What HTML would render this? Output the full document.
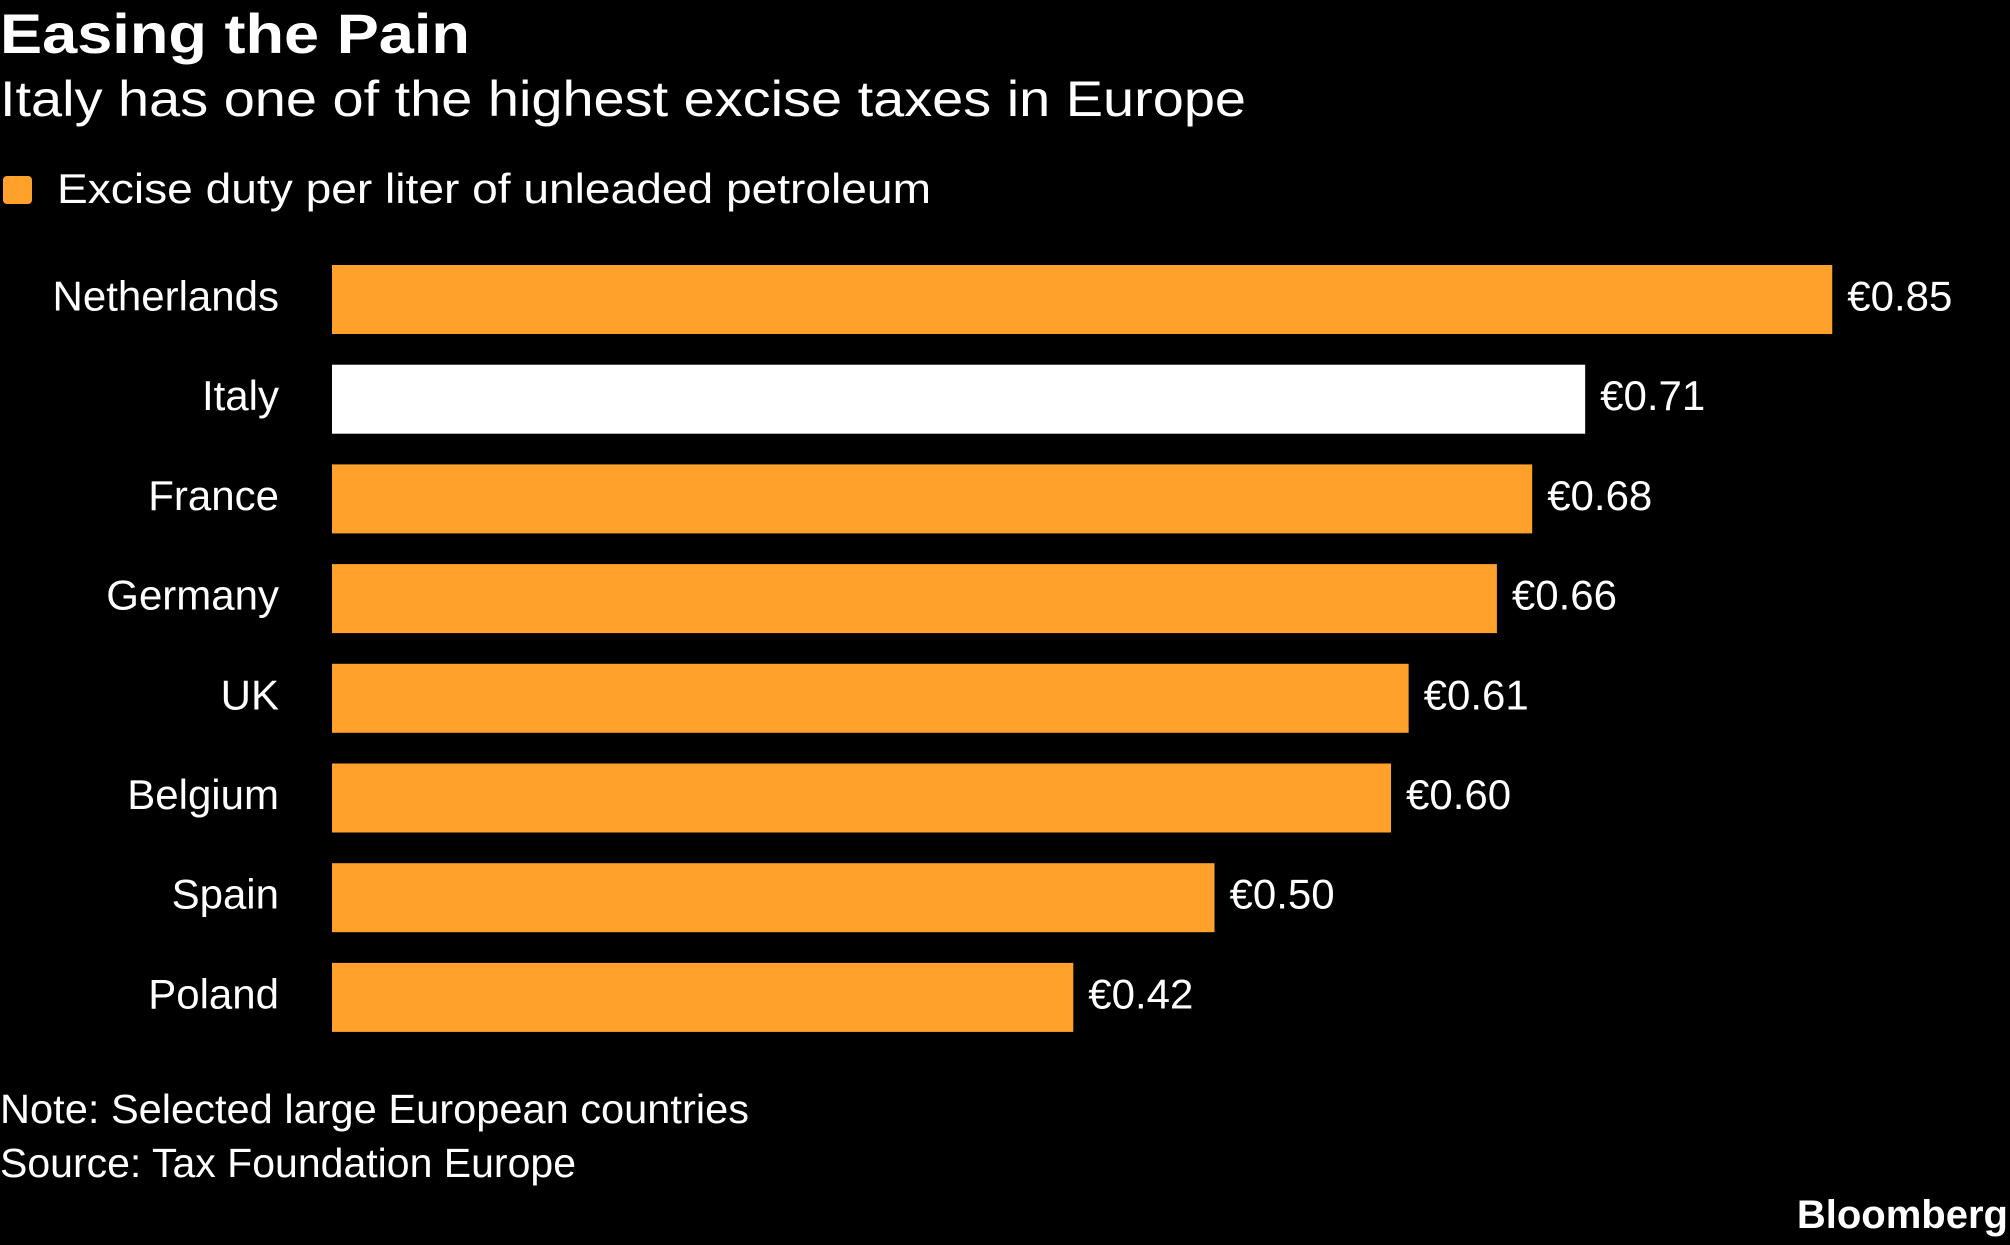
<!DOCTYPE html>
<html><head><meta charset="utf-8"><style>
html,body{margin:0;padding:0;background:#000;}
svg{display:block;font-family:"Liberation Sans",sans-serif;}
</style></head><body>
<svg id="chart" width="2010" height="1245" viewBox="0 0 2010 1245" xmlns="http://www.w3.org/2000/svg">
<rect width="2010" height="1245" fill="#000"/>
<text x="0" y="53" font-size="56" font-weight="bold" fill="#fff" textLength="470" lengthAdjust="spacingAndGlyphs">Easing the Pain</text>
<text x="0" y="116" font-size="50" fill="#fff" textLength="1246" lengthAdjust="spacingAndGlyphs">Italy has one of the highest excise taxes in Europe</text>
<rect x="3" y="176" width="29" height="28" rx="4" fill="#ffa12b"/>
<text x="57" y="203" font-size="42" fill="#fff" textLength="874" lengthAdjust="spacingAndGlyphs">Excise duty per liter of unleaded petroleum</text>
<g id="bars"></g>
<text x="0" y="1123" font-size="41" fill="#fff" textLength="749" lengthAdjust="spacingAndGlyphs">Note: Selected large European countries</text>
<text x="0" y="1177" font-size="41" fill="#fff" textLength="576" lengthAdjust="spacingAndGlyphs">Source: Tax Foundation Europe</text>
<text x="2008" y="1228" font-size="40" font-weight="bold" fill="#fff" text-anchor="end">Bloomberg</text>
</svg>
<script>
const countries = ["Netherlands","Italy","France","Germany","UK","Belgium","Spain","Poland"];
const values = [0.85,0.71,0.68,0.66,0.61,0.60,0.50,0.42];
const valueLabels = ["€0.85","€0.71","€0.68","€0.66","€0.61","€0.60","€0.50","€0.42"];
const highlight = ["Italy"];
const NS="http://www.w3.org/2000/svg";
const x0=332, pxPerUnit=1765, top0=265, pitch=99.7, barH=69;
const xScale=v=>v*pxPerUnit;
const yScale=i=>top0+i*pitch;
const g=document.getElementById('bars');
countries.forEach((c,i)=>{
  const y=yScale(i), w=xScale(values[i]);
  const r=document.createElementNS(NS,'rect');
  r.setAttribute('x',x0);r.setAttribute('y',y);r.setAttribute('width',w);r.setAttribute('height',barH);
  r.setAttribute('fill',highlight.includes(c)?'#ffffff':'#ffa12b');
  
  
  g.appendChild(r);
  const l=document.createElementNS(NS,'text');
  l.setAttribute('x',279);l.setAttribute('y',y+barH/2+11);l.setAttribute('text-anchor','end');
  l.setAttribute('font-size','42');l.setAttribute('fill','#fff');l.textContent=c;
  
  
  g.appendChild(l);
  const v=document.createElementNS(NS,'text');
  v.setAttribute('x',x0+w+15);v.setAttribute('y',y+barH/2+11);
  v.setAttribute('font-size','42');v.setAttribute('fill','#fff');v.textContent=valueLabels[i];
  
  
  g.appendChild(v);
});
</script>
</body></html>
